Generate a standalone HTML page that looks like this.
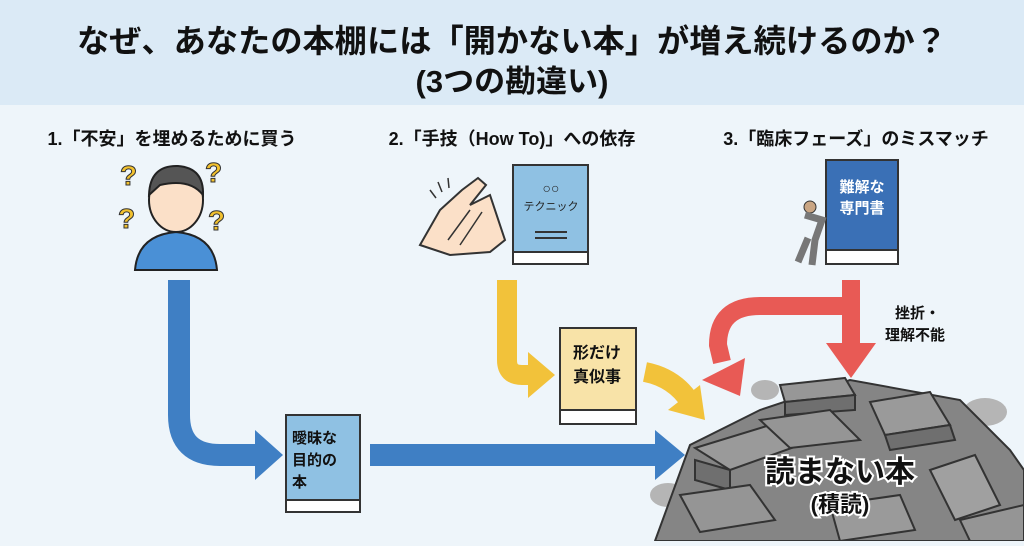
<!DOCTYPE html>
<html><head><meta charset="utf-8"><style>
body{margin:0;width:1024px;height:541px;overflow:hidden;background:#eef5fa;font-family:"Liberation Sans","Noto Sans CJK JP",sans-serif;}
</style></head><body>
<svg width="1024" height="541" viewBox="0 0 1024 541" xmlns="http://www.w3.org/2000/svg" font-family="Liberation Sans, Noto Sans CJK JP, sans-serif">
<rect width="1024" height="541" fill="#eef5fa"/>
<rect width="1024" height="105" fill="#dbeaf6"/>
<text x="512" y="52" font-size="32" font-weight="bold" text-anchor="middle" fill="#111" textLength="870" lengthAdjust="spacingAndGlyphs">なぜ、あなたの本棚には「開かない本」が増え続けるのか？</text>
<text x="512" y="92" font-size="31" font-weight="bold" text-anchor="middle" fill="#111">(3つの勘違い)</text>
<g font-size="18" font-weight="bold" fill="#111" text-anchor="middle">
<text x="172" y="145">1.「不安」を埋めるために買う</text>
<text x="512" y="145">2.「手技（How To)」への依存</text>
<text x="856" y="145">3.「臨床フェーズ」のミスマッチ</text>
</g>
<!-- person -->
<path d="M135 270 Q138 235 176 232 Q214 235 217 270Z" fill="#4a90d6" stroke="#222" stroke-width="2"/>
<ellipse cx="176" cy="200" rx="27" ry="32" fill="#fbe0c8" stroke="#222" stroke-width="2"/>
<path d="M149 195 Q150 165 178 166 Q204 168 203 195 Q190 178 160 185Z" fill="#555" stroke="#222" stroke-width="2"/>
<g font-size="28" font-weight="bold" fill="#f2c12e" stroke="#333" stroke-width="1">
<text x="120" y="185">?</text><text x="205" y="182">?</text><text x="118" y="228">?</text><text x="208" y="230">?</text></g>
<!-- hands -->
<path d="M420 245 L440 210 L462 190 L478 178 L486 185 L470 205 L490 195 L505 240 L490 252 L450 255 Z" fill="#fbe0c8" stroke="#333" stroke-width="2"/>
<path d="M448 240 L470 210 M460 245 L482 212" stroke="#333" stroke-width="1.5"/>
<path d="M430 190 l6 8 M438 182 l4 10 M448 178 l1 10" stroke="#333" stroke-width="1.5"/>
<!-- book 2 -->
<rect x="513" y="165" width="75" height="95" fill="#8fc1e3" stroke="#333" stroke-width="2"/>
<rect x="513" y="252" width="75" height="12" fill="#fff" stroke="#333" stroke-width="2"/>
<text x="551" y="193" font-size="14" text-anchor="middle" fill="#222">○○</text>
<text x="551" y="210" font-size="11" text-anchor="middle" fill="#222">テクニック</text>
<line x1="535" y1="232" x2="567" y2="232" stroke="#333" stroke-width="2"/>
<line x1="535" y1="238" x2="567" y2="238" stroke="#333" stroke-width="2"/>
<!-- book 3 -->
<rect x="826" y="160" width="72" height="95" fill="#3a70b6" stroke="#333" stroke-width="2"/>
<rect x="826" y="250" width="72" height="14" fill="#fff" stroke="#333" stroke-width="2"/>
<text x="862" y="192" font-size="15" font-weight="bold" text-anchor="middle" fill="#fff">難解な</text>
<text x="862" y="213" font-size="15" font-weight="bold" text-anchor="middle" fill="#fff">専門書</text>
<circle cx="810" cy="207" r="6" fill="#c9a583" stroke="#333"/>
<path d="M805 215 L822 220 L815 240 L812 265 M808 238 L798 262" stroke="#777" stroke-width="7" fill="none"/>
<!-- blue arrows -->
<path d="M179 280 L179 415 Q179 455 220 455 L258 455" stroke="#3f7fc4" stroke-width="22" fill="none"/>
<polygon points="255,430 283,455 255,480" fill="#3f7fc4"/>
<rect x="370" y="444" width="290" height="22" fill="#3f7fc4"/>
<polygon points="655,430 685,455 655,480" fill="#3f7fc4"/>
<!-- book 1 -->
<rect x="286" y="415" width="74" height="88" fill="#8fc1e3" stroke="#333" stroke-width="2"/>
<rect x="286" y="500" width="74" height="12" fill="#fff" stroke="#333" stroke-width="2"/>
<g font-size="15" font-weight="bold" fill="#111"><text x="292" y="443">曖昧な</text><text x="292" y="465">目的の</text><text x="292" y="487">本</text></g>
<!-- yellow -->
<path d="M507 280 L507 360 Q507 375 522 375 L532 375" stroke="#f2c23a" stroke-width="20" fill="none"/>
<polygon points="528,352 555,375 528,398" fill="#f2c23a"/>
<rect x="560" y="328" width="76" height="86" fill="#f8e3a8" stroke="#333" stroke-width="2"/>
<rect x="560" y="410" width="76" height="14" fill="#fff" stroke="#333" stroke-width="2"/>
<g font-size="16" font-weight="bold" fill="#111"><text x="573" y="358">形だけ</text><text x="573" y="382">真似事</text></g>
<path d="M645 372 Q675 378 690 402" stroke="#f2c23a" stroke-width="20" fill="none"/>
<polygon points="668,410 705,420 700,385" fill="#f2c23a"/>
<!-- red -->
<path d="M851 280 L851 345" stroke="#e85a55" stroke-width="18" fill="none"/>
<polygon points="826,343 876,343 851,378" fill="#e85a55"/>
<path d="M842 306 L760 306 Q718 306 718 345 L722 362" stroke="#e85a55" stroke-width="18" fill="none"/>
<polygon points="702,380 740,396 745,358" fill="#e85a55"/>
<g font-size="15" font-weight="bold" fill="#111"><text x="895" y="318">挫折・</text><text x="885" y="340">理解不能</text></g>
<!-- pile -->
<ellipse cx="985" cy="412" rx="22" ry="14" fill="#b5b5b5"/>
<ellipse cx="668" cy="495" rx="18" ry="12" fill="#b5b5b5"/>
<ellipse cx="765" cy="390" rx="14" ry="10" fill="#b5b5b5"/>
<g stroke="#333" stroke-width="2">
<polygon points="655,541 690,445 760,410 850,380 960,400 1010,450 1024,470 1024,541" fill="#858585"/>
<polygon points="695,448 770,425 800,445 730,470" fill="#9a9a9a"/>
<polygon points="695,460 730,470 730,490 695,480" fill="#6f6f6f"/>
<polygon points="780,385 845,378 855,395 785,402" fill="#979797"/>
<polygon points="785,402 855,395 855,410 785,415" fill="#6f6f6f"/>
<polygon points="760,420 830,410 860,440 790,448" fill="#959595"/>
<polygon points="870,402 930,392 950,425 885,435" fill="#9a9a9a"/>
<polygon points="885,435 950,425 955,440 890,450" fill="#6f6f6f"/>
<polygon points="930,470 975,455 1000,505 955,520" fill="#a0a0a0"/>
<polygon points="680,495 750,485 775,520 700,532" fill="#959595"/>
<polygon points="830,505 900,495 915,530 840,541" fill="#9a9a9a"/>
<polygon points="960,520 1024,505 1024,541 970,541" fill="#959595"/>
</g>
<text x="840" y="482" font-size="30" font-weight="bold" text-anchor="middle" fill="#111" stroke="#fff" stroke-width="4" paint-order="stroke">読まない本</text>
<text x="840" y="512" font-size="22" font-weight="bold" text-anchor="middle" fill="#111" stroke="#fff" stroke-width="4" paint-order="stroke">(積読)</text>
</svg>
</body></html>
